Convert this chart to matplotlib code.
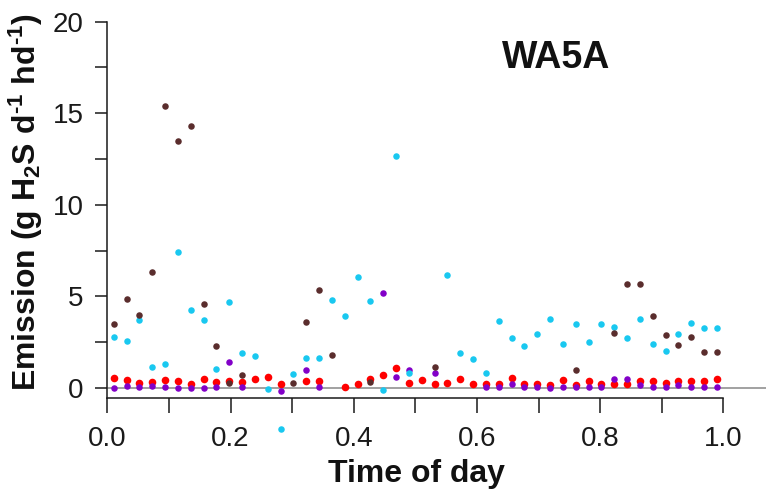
import numpy as np
import matplotlib
matplotlib.use("Agg")
import matplotlib.pyplot as plt
from matplotlib.ticker import MultipleLocator

plt.rcParams["font.family"] = ["Liberation Sans", "DejaVu Sans"]
plt.rcParams["mathtext.fontset"] = "custom"
plt.rcParams["mathtext.rm"] = "Liberation Sans:bold"
plt.rcParams["mathtext.default"] = "regular"

nan = np.nan

# Half-hour sampling slots (fraction of the day)
time_of_day = [0.0104, 0.0313, 0.0521, 0.0729, 0.0938, 0.1146, 0.1354, 0.1563,
               0.1771, 0.1979, 0.2188, 0.2396, 0.2604, 0.2813, 0.3021, 0.3229,
               0.3438, 0.3646, 0.3854, 0.4063, 0.4271, 0.4479, 0.4688, 0.4896,
               0.5104, 0.5313, 0.5521, 0.5729, 0.5938, 0.6146, 0.6354, 0.6563,
               0.6771, 0.6979, 0.7188, 0.7396, 0.7604, 0.7813, 0.8021, 0.8229,
               0.8438, 0.8646, 0.8854, 0.9063, 0.9271, 0.9479, 0.9688, 0.9896]

emission_cyan = [2.77, 2.55, 3.71, 1.16, 1.33, 7.43, 4.26, 3.71,
                 1.06, 4.71, 1.89, 1.73, -0.04, -2.24, 0.75, 1.66,
                 1.66, 4.82, 3.95, 6.08, 4.75, -0.13, 12.69, 0.82,
                 nan, nan, 6.19, 1.93, 1.58, 0.84, 3.65, 2.73,
                 2.28, 2.97, 3.79, 2.40, 3.48, 2.53, 3.51, 3.33,
                 2.75, 3.75, 2.38, 2.02, 2.95, 3.53, 3.28, 3.29]

emission_brown = [3.48, 4.86, 4.00, 6.32, 15.40, 13.47, 14.29, 4.57,
                  2.29, 0.27, 0.69, nan, nan, nan, 0.27, 3.62,
                  5.35, 1.80, nan, nan, 0.33, nan, nan, nan,
                  nan, 1.15, nan, nan, nan, nan, nan, nan,
                  nan, nan, nan, nan, 0.98, nan, nan, 3.00,
                  5.70, 5.70, 3.93, 2.89, 2.35, 2.77, 1.98, 1.97]

emission_red = [0.56, 0.42, 0.27, 0.31, 0.42, 0.36, 0.24, 0.49,
                0.35, 0.38, 0.31, 0.49, 0.62, 0.22, nan, 0.40,
                0.38, nan, 0.04, 0.20, 0.51, 0.71, 1.09, 0.29,
                0.42, 0.20, 0.29, 0.49, 0.20, 0.24, 0.20, 0.56,
                0.24, 0.24, 0.15, 0.45, 0.16, 0.36, 0.20, 0.20,
                0.22, 0.36, 0.36, 0.29, 0.36, 0.36, 0.36, 0.47]

emission_purple = [0.00, 0.11, 0.05, 0.09, 0.05, 0.02, 0.02, 0.02,
                   0.07, 1.40, 0.07, nan, nan, -0.16, nan, 0.98,
                   0.07, nan, nan, nan, nan, 5.19, 0.62, 0.96,
                   nan, 0.80, nan, nan, nan, 0.04, 0.04, 0.24,
                   0.07, 0.07, 0.00, 0.04, 0.04, 0.05, 0.07, 0.49,
                   0.47, 0.15, 0.07, 0.07, 0.15, 0.05, 0.05, 0.05]

fig = plt.figure(figsize=(7.66, 4.90), dpi=100)
ax = fig.add_axes([0.1401, 0.1878, 0.8042, 0.7679])

ax.set_xlim(0, 1.0)
ax.set_ylim(-0.546, 20)

# zero reference line running out past the axis end
ax.plot([0, 1.07], [0, 0], color="#9a9a9a", lw=1.3, clip_on=False, zorder=1)

dot = dict(linewidths=0, clip_on=False)
ax.scatter(time_of_day, emission_red, s=30, color="#ff0000", zorder=3, **dot)
ax.scatter(time_of_day, emission_purple, s=22, color="#8200c8", zorder=4, **dot)
ax.scatter(time_of_day, emission_cyan, s=22, color="#19c8f0", zorder=5, **dot)
ax.scatter(time_of_day, emission_brown, s=22, color="#5a2d2d", zorder=6, **dot)

for side in ("top", "right"):
    ax.spines[side].set_visible(False)
for side in ("left", "bottom"):
    ax.spines[side].set_linewidth(1.1)
    ax.spines[side].set_color("#1a1a1a")

ax.xaxis.set_major_locator(MultipleLocator(0.2))
ax.xaxis.set_minor_locator(MultipleLocator(0.1))
ax.yaxis.set_major_locator(MultipleLocator(5))
ax.yaxis.set_minor_locator(MultipleLocator(2.5))
ax.xaxis.set_major_formatter(plt.FormatStrFormatter("%.1f"))

ax.tick_params(axis="both", which="both", direction="out", width=1.1,
               color="#1a1a1a", labelsize=20, labelcolor="#1a1a1a")
ax.tick_params(axis="x", which="both", length=11, pad=9)
ax.tick_params(axis="y", which="both", length=9, pad=8)

ax.text(0.728, 17.47, "WA5A", ha="center", va="baseline",
        fontsize=27, fontweight="bold", color="#111111")

fig.text(416 / 766, 1 - 482 / 490, "Time of day", ha="center", va="baseline",
         fontsize=23, fontweight="bold", color="#111111")
fig.text(26 / 766, 1 - 202 / 490,
         r"Emission (g H$_2$S d$^{\text{-1}}$ hd$^{\text{-1}}$)", rotation=90,
         ha="center", va="center", fontsize=23, fontweight="bold",
         color="#111111")

fig.savefig("out.png", dpi=100)
